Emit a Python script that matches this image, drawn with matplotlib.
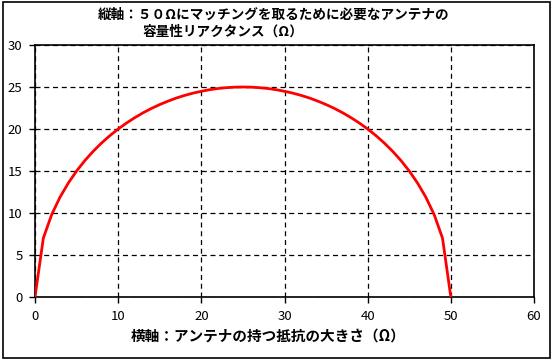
import matplotlib
matplotlib.use("Agg")
import matplotlib.pyplot as plt
from matplotlib.patches import Rectangle

plt.rcParams['font.family'] = ['Noto Sans CJK JP', 'DejaVu Sans']

resistance = list(range(0, 51))
reactance_half = [0.00, 7.00, 9.80, 11.87, 13.56, 15.00, 16.25, 17.35, 18.33, 19.21,
                  20.00, 20.71, 21.35, 21.93, 22.45, 22.91, 23.32, 23.69, 24.00, 24.27,
                  24.49, 24.68, 24.82, 24.92, 24.98, 25.00]
reactance = reactance_half + reactance_half[-2::-1]

x_ticks = [0, 10, 20, 30, 40, 50, 60]
y_ticks = [0, 5, 10, 15, 20, 25, 30]
title_line1 = "縦軸：５０Ωにマッチングを取るために必要なアンテナの"
title_line2 = "容量性リアクタンス（Ω）"
x_label = "横軸：アンテナの持つ抵抗の大きさ（Ω）"

W, H = 553, 360
fig = plt.figure(figsize=(W / 100, H / 100), dpi=100)
ax = fig.add_axes([35 / W, 1 - 297 / H, (534 - 35) / W, (297 - 45) / H])

ax.plot(resistance, reactance, color='#ff0000', linewidth=2.0, zorder=3)

ax.set_xlim(0, 60)
ax.set_ylim(0, 30)
ax.set_xticks(x_ticks)
ax.set_yticks(y_ticks)
ax.grid(True, linestyle=(0, (4, 3)), color='black', linewidth=0.9)
for s in ax.spines.values():
    s.set_color('black')
    s.set_linewidth(1.2)
ax.tick_params(direction='out', length=4, width=1, labelsize=9.5, colors='black', pad=5)

fig.text(274 / W, 1 - 15 / H, title_line1, ha='center', va='center', fontsize=9.8, fontweight='bold')
fig.text(142 / W, 1 - 32 / H, title_line2, ha='left', va='center', fontsize=9.8, fontweight='bold')
fig.text(268 / W, 1 - 336 / H, x_label, ha='center', va='center', fontsize=10.5, fontweight='bold')

fig.patches.append(Rectangle((3 / W, 1 - 358 / H), (550 - 3) / W, (358 - 2) / H,
                             transform=fig.transFigure, fill=False, edgecolor='black', linewidth=1.2))

fig.savefig("out.png", dpi=100)
